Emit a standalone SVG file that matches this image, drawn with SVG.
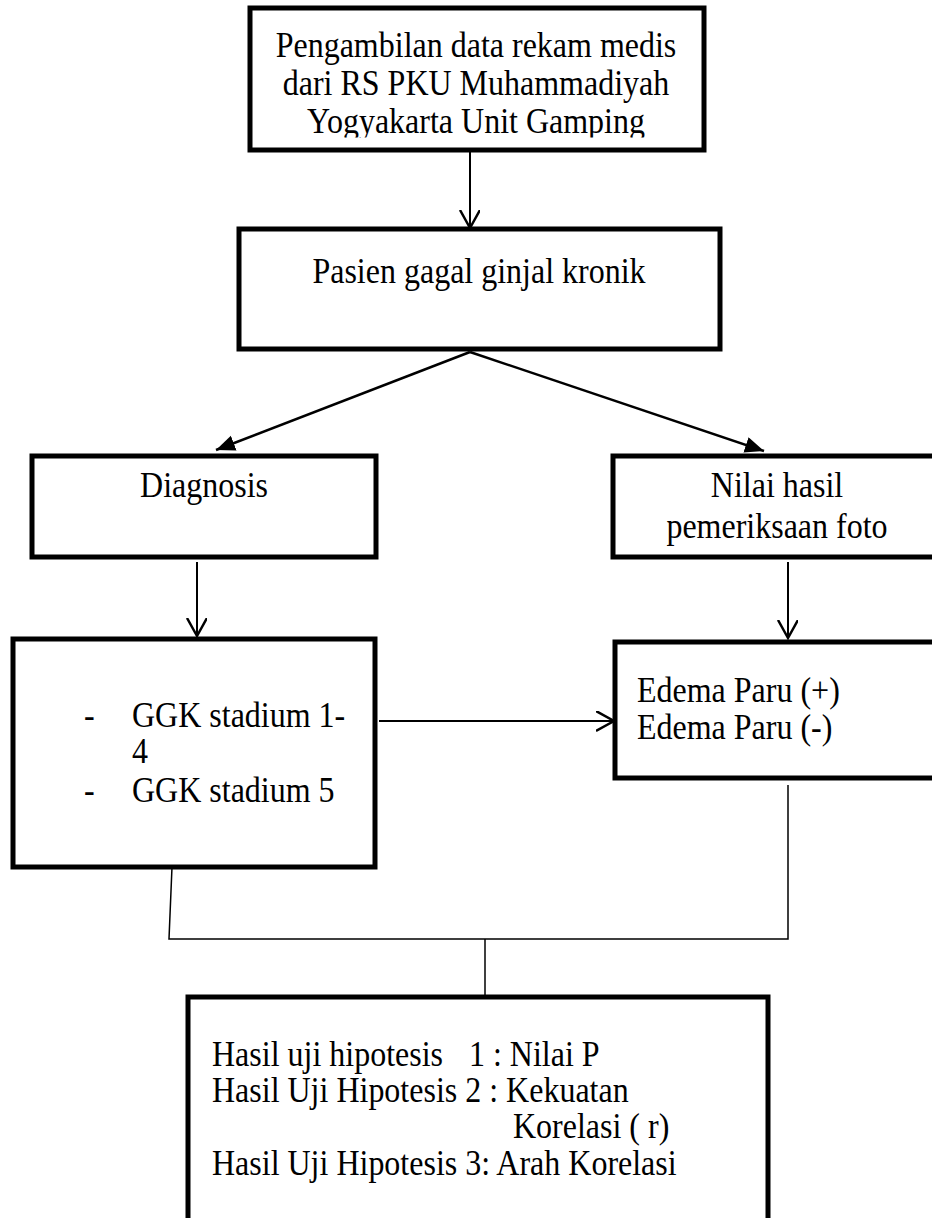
<svg xmlns="http://www.w3.org/2000/svg" width="932" height="1218" viewBox="0 0 932 1218">
<style>
.box{fill:#fff;stroke:#000;stroke-width:5}
.t{font-family:"Liberation Serif","Times New Roman",serif;font-size:32px;fill:#000}
.c{text-anchor:middle}
.arr{fill:none;stroke:#000;stroke-width:2}
.diag{fill:none;stroke:#000;stroke-width:2.5}
.thin{fill:none;stroke:#000;stroke-width:1.5}
</style>
<defs>
<marker id="open" markerUnits="userSpaceOnUse" markerWidth="24" markerHeight="24" refX="18" refY="10" orient="auto">
<path d="M0,0 L18,10 L0,20" fill="none" stroke="#000" stroke-width="2.5"/>
</marker>
<marker id="solid" markerUnits="userSpaceOnUse" markerWidth="24" markerHeight="20" refX="19" refY="8" orient="auto">
<path d="M0,0 L19,8 L0,16 z" fill="#000"/>
</marker>
<clipPath id="clip1"><rect x="250" y="8" width="454" height="129.5"/></clipPath>
</defs>
<rect width="932" height="1218" fill="#fff"/>
<g id="connectors">
<line class="arr" x1="470" y1="152" x2="470" y2="228" marker-end="url(#open)"/>
<line class="diag" x1="470" y1="352" x2="216" y2="450" marker-end="url(#solid)"/>
<line class="diag" x1="470" y1="352" x2="764" y2="451" marker-end="url(#solid)"/>
<line class="arr" x1="197" y1="562" x2="197" y2="636" marker-end="url(#open)"/>
<line class="arr" x1="788" y1="562" x2="788" y2="638" marker-end="url(#open)"/>
<line class="arr" x1="379" y1="721" x2="614" y2="721" marker-end="url(#open)"/>
<polyline class="thin" points="172,867 169,939 788,939 788,785"/>
<line class="thin" x1="485" y1="939" x2="485" y2="995"/>
</g>
<g id="node-pengambilan">
<rect class="box" x="250" y="8" width="454" height="142"/>
<g clip-path="url(#clip1)">
<text class="t c" transform="translate(476 57) scale(1 1.1)">Pengambilan data rekam medis</text>
<text class="t c" transform="translate(476 95) scale(1 1.1)">dari RS PKU Muhammadiyah</text>
<text class="t c" transform="translate(476 133) scale(1 1.1)">Yogyakarta Unit Gamping</text>
</g>
</g>
<g id="node-pasien">
<rect class="box" x="239" y="229" width="481" height="120"/>
<text class="t c" transform="translate(479 283) scale(1 1.1)">Pasien gagal ginjal kronik</text>
</g>
<g id="node-diagnosis">
<rect class="box" x="32" y="456" width="344" height="101"/>
<text class="t c" transform="translate(204 497) scale(1 1.1)">Diagnosis</text>
</g>
<g id="node-nilai">
<rect class="box" x="613" y="456" width="340" height="101"/>
<text class="t c" transform="translate(777 497) scale(1 1.1)">Nilai hasil</text>
<text class="t c" transform="translate(777 538) scale(1 1.1)">pemeriksaan foto</text>
</g>
<g id="node-ggk">
<rect class="box" x="13" y="639" width="362" height="228"/>
<text class="t" transform="translate(84 727) scale(1 1.1)">-</text>
<text class="t" transform="translate(132 727) scale(1 1.1)">GGK stadium 1-</text>
<text class="t" transform="translate(132 763) scale(1 1.1)">4</text>
<text class="t" transform="translate(84 802) scale(1 1.1)">-</text>
<text class="t" transform="translate(132 802) scale(1 1.1)">GGK stadium 5</text>
</g>
<g id="node-edema">
<rect class="box" x="615" y="642" width="340" height="136"/>
<text class="t" transform="translate(637 702) scale(1 1.1)">Edema Paru (+)</text>
<text class="t" transform="translate(637 739) scale(1 1.1)">Edema Paru (-)</text>
</g>
<g id="node-hasil">
<rect class="box" x="188" y="997" width="580" height="260"/>
<text class="t" transform="translate(212 1066) scale(1 1.1)">Hasil uji hipotesis</text>
<text class="t" transform="translate(469 1066) scale(1 1.1)">1 : Nilai P</text>
<text class="t" transform="translate(212 1102) scale(1 1.1)">Hasil Uji Hipotesis 2 : Kekuatan</text>
<text class="t" transform="translate(513 1138) scale(1 1.1)">Korelasi ( r)</text>
<text class="t" transform="translate(212 1175) scale(1 1.1)">Hasil Uji Hipotesis 3: Arah Korelasi</text>
</g>
</svg>
